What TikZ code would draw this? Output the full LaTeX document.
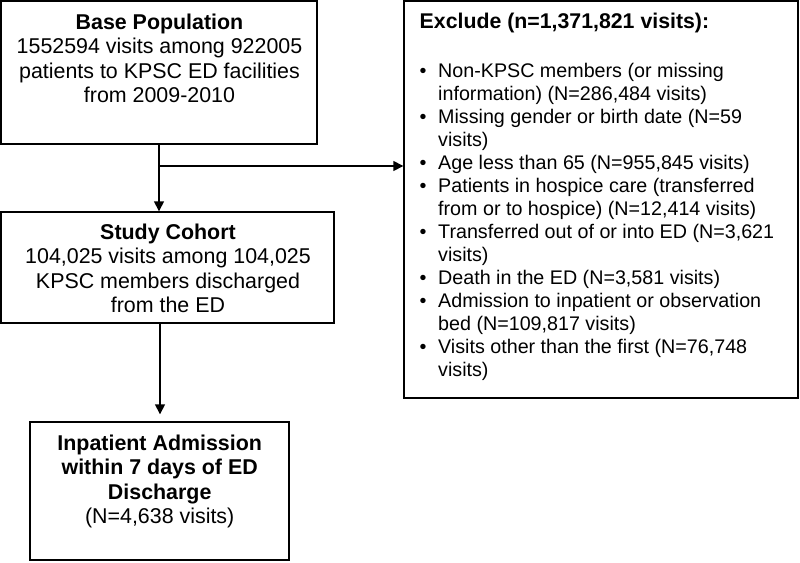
\documentclass[tikz,border=0pt]{standalone}
\usepackage{fontspec}
\setmainfont{Liberation Sans}
\usetikzlibrary{arrows.meta}
\newcommand{\exbul}{\makebox[18.5pt][l]{\textbullet}}
\newcommand{\exind}{\hspace*{18.5pt}}
\begin{document}
\begin{tikzpicture}[x=1pt,y=-1pt,
  box/.style={draw=black,line width=1.4pt,inner sep=0pt},
  conn/.style={line width=1.5pt,-{Triangle[length=10pt,width=10pt]}},
  txt/.style={inner sep=0pt,align=center,anchor=base,font=\fontsize{21.4}{24.6}\selectfont},
  lst/.style={inner sep=0pt,align=left,anchor=base west,font=\fontsize{19.7}{23}\selectfont}]
\useasboundingbox (0,0) rectangle (800,562);
% boxes
\node[box,minimum width=316pt,minimum height=143pt] (b1) at (159,72.5) {};
\node[box,minimum width=394pt,minimum height=397pt] (ex) at (601,199.5) {};
\node[box,minimum width=333pt,minimum height=111pt] (co) at (167.5,267.5) {};
\node[box,minimum width=259pt,minimum height=138pt] (inp) at (159.5,491) {};
% texts (base anchor = baseline of last line)
\node[txt] (t1) at (159.5,102.8) {\textbf{Base Population}\\1552594 visits among 922005\\patients to KPSC ED facilities\\from 2009-2010};
\node[txt] (t2) at (168,312.8) {\textbf{Study Cohort}\\104,025 visits among 104,025\\KPSC members discharged\\from the ED};
\node[txt] (t3) at (159.7,523.8) {\textbf{Inpatient Admission}\\\textbf{within 7 days of ED}\\\textbf{Discharge}\\(N=4,638 visits)};
\node[inner sep=0pt,anchor=base west,font=\fontsize{21.3}{24}\selectfont\bfseries] (ext) at (419.5,28.5) {Exclude (n=1,371,821 visits):};
\node[lst] (exl) at (419.5,376.7) {\exbul Non-KPSC members (or missing\\\exind information) (N=286,484 visits)\\\exbul Missing gender or birth date (N=59\\\exind visits)\\\exbul Age less than 65 (N=955,845 visits)\\\exbul Patients in hospice care (transferred\\\exind from or to hospice) (N=12,414 visits)\\\exbul Transferred out of or into ED (N=3,621\\\exind visits)\\\exbul Death in the ED (N=3,581 visits)\\\exbul Admission to inpatient or observation\\\exind bed (N=109,817 visits)\\\exbul Visits other than the first (N=76,748\\\exind visits)};
% connectors
\draw[conn] (b1.south) -- (b1.south |- co.north);
\coordinate (br) at (159,166);
\draw[conn] (br) -- (br -| ex.west);
\draw[conn,shorten >=7pt] ([xshift=0.5pt]inp.north |- co.south) -- ([xshift=0.5pt]inp.north);
\end{tikzpicture}
\end{document}
